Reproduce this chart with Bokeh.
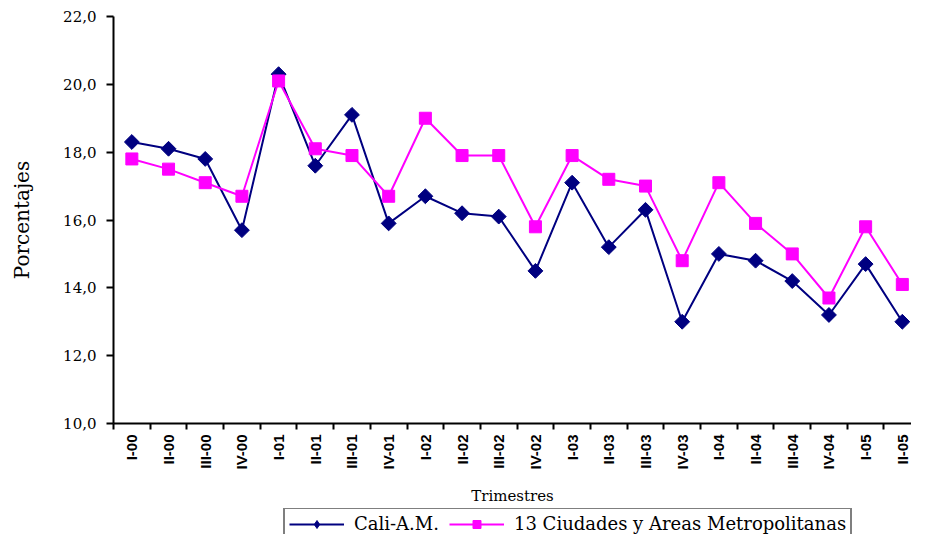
import math
from bokeh.plotting import figure
from bokeh.layouts import column
from bokeh.models import FixedTicker, Range1d, Legend, LegendItem
from bokeh.embed import file_html
from bokeh.resources import INLINE

trimestres = ["I-00", "II-00", "III-00", "IV-00", "I-01", "II-01", "III-01", "IV-01",
              "I-02", "II-02", "III-02", "IV-02", "I-03", "II-03", "III-03", "IV-03",
              "I-04", "II-04", "III-04", "IV-04", "I-05", "II-05"]
cali = [18.3, 18.1, 17.8, 15.7, 20.3, 17.6, 19.1, 15.9, 16.7, 16.2, 16.1, 14.5,
        17.1, 15.2, 16.3, 13.0, 15.0, 14.8, 14.2, 13.2, 14.7, 13.0]
ciudades = [17.8, 17.5, 17.1, 16.7, 20.1, 18.1, 17.9, 16.7, 19.0, 17.9, 17.9, 15.8,
            17.9, 17.2, 17.0, 14.8, 17.1, 15.9, 15.0, 13.7, 15.8, 14.1]
y_ticks = [10, 12, 14, 16, 18, 20, 22]
y_tick_labels = ["10,0", "12,0", "14,0", "16,0", "18,0", "20,0", "22,0"]
series_names = ["Cali-A.M.", "13 Ciudades y Areas Metropolitanas"]

x = list(range(len(trimestres)))

navy = "#000080"
magenta = "#FF00FF"


def draw_series(fig, legend_strip=False):
    r1 = fig.line(x, cali, line_color=navy, line_width=2)
    if legend_strip:
        r2 = fig.scatter(x, cali, marker="diamond", size=16,
                         fill_color=navy, line_color=navy)
    else:
        r2 = fig.scatter(x, cali, marker="square", angle=math.pi / 4, size=10.5,
                         fill_color=navy, line_color=navy)
    r3 = fig.line(x, ciudades, line_color=magenta, line_width=2)
    r4 = fig.scatter(x, ciudades, marker="square", size=12,
                     fill_color=magenta, line_color=magenta)
    return r1, r2, r3, r4


p = figure(width=911, height=508, output_backend="svg", toolbar_location=None,
           x_range=Range1d(-0.5, 21.25), y_range=Range1d(10, 22),
           min_border_left=113, min_border_top=16, min_border_right=0, min_border_bottom=85)
p.grid.visible = False
p.outline_line_color = None
p.background_fill_color = "white"
p.border_fill_color = "white"
draw_series(p)

# y axis
ya = p.yaxis[0]
ya.ticker = FixedTicker(ticks=y_ticks)
ya.major_label_overrides = {t: l for t, l in zip(y_ticks, y_tick_labels)}
ya.minor_tick_line_color = None
ya.major_tick_out = 7
ya.major_tick_in = 0
ya.major_tick_line_width = 2
ya.axis_line_width = 2
ya.axis_line_color = "black"
ya.major_label_text_font = "DejaVu Serif"
ya.major_label_text_font_size = "15px"
ya.major_label_text_color = "black"
ya.major_label_standoff = 10
ya.axis_label = "Porcentajes"
ya.axis_label_text_font = "DejaVu Serif"
ya.axis_label_text_font_size = "20px"
ya.axis_label_text_font_style = "normal"
ya.axis_label_text_color = "black"
ya.axis_label_standoff = 26

# x axis
xa = p.xaxis[0]
xa.ticker = FixedTicker(ticks=x, minor_ticks=[i - 0.5 for i in range(len(trimestres) + 1)])
xa.major_label_overrides = {i: t for i, t in zip(x, trimestres)}
xa.major_tick_in = 0
xa.major_tick_out = 0
xa.minor_tick_in = 0
xa.minor_tick_out = 6
xa.minor_tick_line_color = "black"
xa.minor_tick_line_width = 2
xa.axis_line_width = 2
xa.axis_line_color = "black"
xa.major_label_orientation = math.pi / 2
xa.major_label_text_font = "Liberation Sans"
xa.major_label_text_font_style = "bold"
xa.major_label_text_font_size = "15px"
xa.major_label_text_color = "black"
xa.major_label_standoff = 5
xa.axis_label = "Trimestres"
xa.axis_label_text_font = "DejaVu Serif"
xa.axis_label_text_font_size = "15px"
xa.axis_label_text_font_style = "normal"
xa.axis_label_text_color = "black"
xa.axis_label_standoff = 14

# legend strip below the chart (same series, drawn out of view; only the legend shows)
pl = figure(width=911, height=26, output_backend="svg", toolbar_location=None,
            x_range=Range1d(100, 101), y_range=Range1d(100, 101),
            min_border_left=0, min_border_top=0, min_border_right=0, min_border_bottom=0)
pl.axis.visible = False
pl.grid.visible = False
pl.outline_line_color = None
pl.background_fill_color = "white"
pl.border_fill_color = "white"
dl1, ds1, dl2, ds2 = draw_series(pl, legend_strip=True)

legend = Legend(items=[LegendItem(label=series_names[0], renderers=[dl1, ds1]),
                       LegendItem(label=series_names[1], renderers=[dl2, ds2])],
                orientation="horizontal", location=(170, -6))
legend.border_line_color = "black"
legend.border_line_width = 2
legend.background_fill_color = "white"
legend.label_text_font = "DejaVu Serif"
legend.label_text_font_size = "18px"
legend.label_text_color = "black"
legend.glyph_width = 55
legend.label_standoff = 10
legend.spacing = 10
legend.padding = 4
legend.margin = 0
pl.add_layout(legend)

layout = column(p, pl, spacing=0)
open("out.html", "w").write(file_html(layout, INLINE))
